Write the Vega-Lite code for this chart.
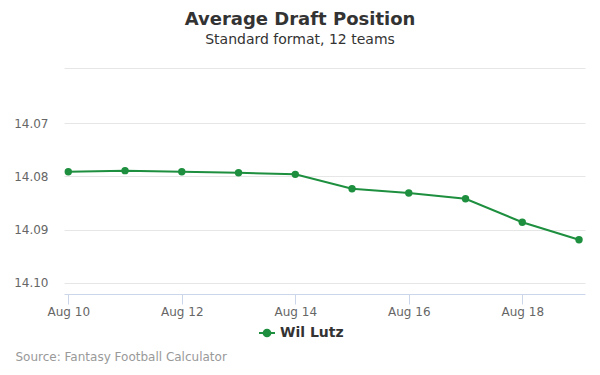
{
  "$schema": "https://vega.github.io/schema/vega-lite/v6.json",
  "width": 521,
  "height": 226,
  "autosize": "none",
  "padding": {"left": 64, "top": 68, "right": 15, "bottom": 81},
  "background": "white",
  "config": {
    "font": "DejaVu Sans",
    "view": {"stroke": null}
  },
  "title": {
    "text": "Average Draft Position",
    "subtitle": "Standard format, 12 teams",
    "fontSize": 18,
    "fontWeight": "bold",
    "color": "#333333",
    "subtitleFontSize": 14,
    "subtitleColor": "#333333",
    "subtitlePadding": 4,
    "anchor": "middle",
    "frame": "group",
    "dx": -24.5,
    "offset": 21
  },
  "data": {
    "values": [
      {"date": "2019-08-10", "adp": 14.0791, "player": "Wil Lutz"},
      {"date": "2019-08-11", "adp": 14.0789, "player": "Wil Lutz"},
      {"date": "2019-08-12", "adp": 14.0791, "player": "Wil Lutz"},
      {"date": "2019-08-13", "adp": 14.0793, "player": "Wil Lutz"},
      {"date": "2019-08-14", "adp": 14.0796, "player": "Wil Lutz"},
      {"date": "2019-08-15", "adp": 14.0823, "player": "Wil Lutz"},
      {"date": "2019-08-16", "adp": 14.0831, "player": "Wil Lutz"},
      {"date": "2019-08-17", "adp": 14.0842, "player": "Wil Lutz"},
      {"date": "2019-08-18", "adp": 14.0886, "player": "Wil Lutz"},
      {"date": "2019-08-19", "adp": 14.0919, "player": "Wil Lutz"}
    ]
  },
  "mark": {"type": "line", "strokeWidth": 2, "point": {"size": 55, "filled": true, "opacity": 1}},
  "encoding": {
    "x": {
      "field": "date",
      "type": "temporal",
      "scale": {
        "type": "utc",
        "domain": [
          {"year": 2019, "month": 8, "date": 9, "hours": 22, "minutes": 11, "utc": true},
          {"year": 2019, "month": 8, "date": 19, "hours": 2, "minutes": 32, "utc": true}
        ]
      },
      "axis": {
        "values": [
          {"year": 2019, "month": 8, "date": 10, "utc": true},
          {"year": 2019, "month": 8, "date": 12, "utc": true},
          {"year": 2019, "month": 8, "date": 14, "utc": true},
          {"year": 2019, "month": 8, "date": 16, "utc": true},
          {"year": 2019, "month": 8, "date": 18, "utc": true}
        ],
        "format": "%b %d",
        "grid": false,
        "domainColor": "#ccd6eb",
        "tickColor": "#ccd6eb",
        "tickSize": 10,
        "labelPadding": 2,
        "labelFontSize": 12,
        "labelColor": "#666666",
        "title": "Source: Fantasy Football Calculator",
        "titleFontSize": 12,
        "titleFontWeight": "normal",
        "titleColor": "#999999",
        "titleAnchor": "start",
        "titleAlign": "left",
        "titleBaseline": "middle",
        "titleX": -49,
        "titleY": 62
      }
    },
    "y": {
      "field": "adp",
      "type": "quantitative",
      "scale": {"domain": [14.0596, 14.1021], "reverse": true, "zero": false, "nice": false},
      "axis": {
        "values": [14.0596, 14.07, 14.08, 14.09, 14.1],
        "labelExpr": "datum.value < 14.065 ? '' : format(datum.value, '.2f')",
        "grid": true,
        "gridColor": "#e6e6e6",
        "domain": false,
        "ticks": false,
        "labelPadding": 16,
        "labelFontSize": 12,
        "labelColor": "#666666",
        "title": null
      }
    },
    "color": {
      "field": "player",
      "type": "nominal",
      "scale": {"range": ["#1d8f3e"]},
      "legend": {
        "orient": "none",
        "legendX": 194,
        "legendY": 256,
        "title": null,
        "symbolType": "M-1,0L1,0M-0.42,0A0.42,0.42 0 1,0 0.42,0A0.42,0.42 0 1,0 -0.42,0Z",
        "symbolSize": 256,
        "symbolStrokeWidth": 2,
        "symbolFillColor": "#1d8f3e",
        "symbolStrokeColor": "#1d8f3e",
        "labelFontSize": 14,
        "labelFontWeight": "bold",
        "labelColor": "#333333",
        "labelOffset": 4
      }
    }
  }
}
